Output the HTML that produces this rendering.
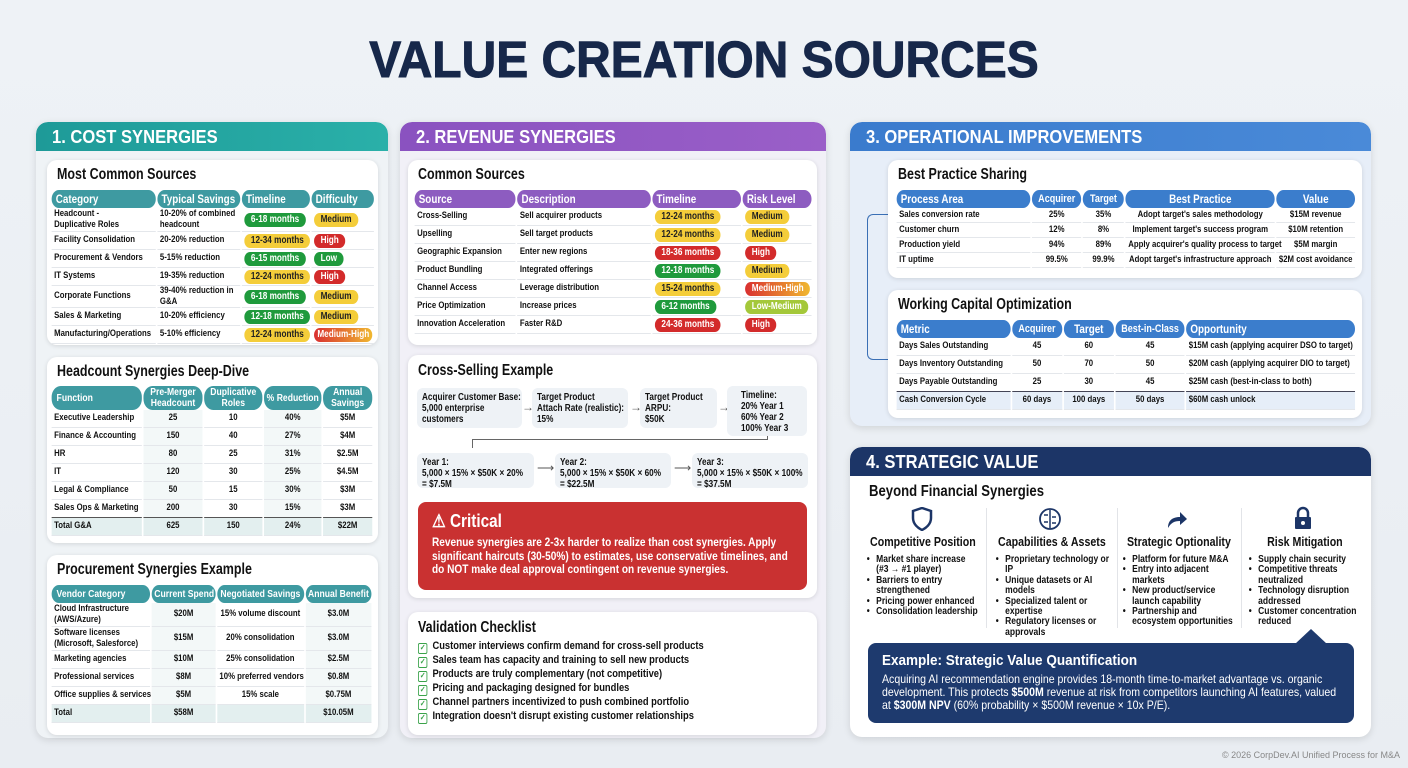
<!DOCTYPE html>
<html><head><meta charset="utf-8">
<style>
*{box-sizing:border-box;margin:0;padding:0}
body{width:1408px;height:768px;background:linear-gradient(180deg,#eef2f6,#e9edf2);font-family:"Liberation Sans",sans-serif;color:#111;position:relative;overflow:hidden}
.a{position:absolute}
h1{position:absolute;left:0;width:1408px;top:30px;text-align:center;font-size:51px;font-weight:700;color:#17284a;transform:scaleX(.94);transform-origin:50% 0;-webkit-text-stroke:1px #17284a}
.panel{position:absolute;border-radius:12px;box-shadow:0 2px 8px rgba(0,0,0,.12);overflow:hidden}
.hd{position:absolute;left:0;top:0;right:0;height:29px;color:#fff;font-weight:700;font-size:18px;padding:5px 0 0 16px;border-radius:12px 12px 0 0}
.hd span{display:inline-block;transform:scaleX(.92);transform-origin:0 0}
.card{position:absolute;background:#fff;border-radius:10px;box-shadow:0 1px 5px rgba(0,0,0,.12)}
.ct{position:absolute;left:10px;font-weight:700;font-size:16px;color:#111;transform:scaleX(.78);transform-origin:0 0;white-space:nowrap}
table{position:absolute;border-collapse:separate;border-spacing:2px 0;table-layout:fixed;transform:scaleX(.82);transform-origin:0 0}
th{color:#fff;font-weight:700;font-size:12px;text-align:left;padding:0 5px;border-radius:11px;height:18px;line-height:11px;white-space:nowrap;overflow:hidden}
td{font-size:9.5px;font-weight:700;border-bottom:1px solid #e4e7eb;padding:0 3px;line-height:10.5px;white-space:nowrap}
.c{text-align:center}
.b{display:inline-block;border-radius:8px;padding:1px 8px;font-size:10px;font-weight:700;line-height:12px}
.g{background:#1f9a3c;color:#fff}.y{background:#f4cd3a;color:#222}.r{background:#d32b2b;color:#fff}.lm{background:#a4c83a;color:#fff}.mh{background:linear-gradient(90deg,#d93030,#f0b830);color:#fff}
.box{position:absolute;background:#eef2f6;border-radius:6px;padding:4px 5px;white-space:nowrap;overflow:hidden}
.box span{display:inline-block;font-size:10px;font-weight:700;line-height:11px;transform:scaleX(.82);transform-origin:0 0}
.ar{position:absolute;font-size:12px;color:#555}
.sc{position:absolute;top:535px;width:148px;transform:scaleX(.85);transform-origin:0 0}
.sc h4{font-size:12.5px;font-weight:700;text-align:center}
.sc ul{margin:6px 0 0 8px;list-style:none}
.sc li{font-size:10px;font-weight:700;line-height:10.4px;padding-left:11px;position:relative}
.sc li:before{content:"•";position:absolute;left:0}
.chk{font-size:11px;font-weight:700;line-height:14px;position:absolute;left:418px;transform:scaleX(.85);transform-origin:0 0;white-space:nowrap}
.chk i{display:inline-block;width:11px;height:11px;border:1.5px solid #3aa34a;border-radius:2px;margin-right:6px;vertical-align:-1px;font-size:8px;color:#3aa34a;line-height:8px;text-align:center;font-style:normal}
.s th{font-size:10.5px;padding:0 3px}
</style></head><body>
<h1>VALUE CREATION SOURCES</h1>

<!-- Column 1 -->
<div class="panel" style="left:36px;top:122px;width:352px;height:616px;background:#eff3f6">
 <div class="hd" style="background:linear-gradient(90deg,#1e9a98,#2ab0a9)"><span>1. COST SYNERGIES</span></div>
</div>
<div class="card" style="left:47px;top:160px;width:331px;height:185px">
 <div class="ct" style="top:6px">Most Common Sources</div>
 <table style="left:3px;top:30px;width:394px">
  <colgroup><col style="width:127px"><col style="width:101px"><col style="width:83px"><col style="width:76px"></colgroup>
  <tr><th style="background:#3e9aa1">Category</th><th style="background:#3e9aa1">Typical Savings</th><th style="background:#3e9aa1">Timeline</th><th style="background:#3e9aa1">Difficulty</th></tr>
  <tr style="height:24px"><td>Headcount -<br>Duplicative Roles</td><td>10-20% of combined<br>headcount</td><td><span class="b g">6-18 months</span></td><td><span class="b y">Medium</span></td></tr>
  <tr style="height:18px"><td>Facility Consolidation</td><td>20-20% reduction</td><td><span class="b y">12-34 months</span></td><td><span class="b r">High</span></td></tr>
  <tr style="height:18px"><td>Procurement &amp; Vendors</td><td>5-15% reduction</td><td><span class="b g">6-15 months</span></td><td><span class="b g">Low</span></td></tr>
  <tr style="height:18px"><td>IT Systems</td><td>19-35% reduction</td><td><span class="b y">12-24 months</span></td><td><span class="b r">High</span></td></tr>
  <tr style="height:18px"><td>Corporate Functions</td><td>39-40% reduction in<br>G&amp;A</td><td><span class="b g">6-18 months</span></td><td><span class="b y">Medium</span></td></tr>
  <tr style="height:18px"><td>Sales &amp; Marketing</td><td>10-20% efficiency</td><td><span class="b g">12-18 months</span></td><td><span class="b y">Medium</span></td></tr>
  <tr style="height:18px"><td>Manufacturing/Operations</td><td>5-10% efficiency</td><td><span class="b y">12-24 months</span></td><td><span class="b mh" style="padding:1px 4px">Medium-High</span></td></tr>
 </table>
</div>
<div class="card" style="left:47px;top:357px;width:331px;height:186px">
 <div class="ct" style="top:6px">Headcount Synergies Deep-Dive</div>
 <table class="s" style="left:3px;top:29px;width:394px">
  <colgroup><col style="width:110px"><col style="width:72px"><col style="width:71px"><col style="width:70px"><col style="width:60px"></colgroup>
  <tr><th style="background:#3e9aa1;height:24px;padding-left:6px">Function</th><th class="c" style="background:#3e9aa1">Pre-Merger<br>Headcount</th><th class="c" style="background:#3e9aa1">Duplicative<br>Roles</th><th class="c" style="background:#3e9aa1">% Reduction</th><th class="c" style="background:#3e9aa1">Annual<br>Savings</th></tr>
  <tr style="height:18px"><td>Executive Leadership</td><td class="c" style="background:#f3f8f8">25</td><td class="c">10</td><td class="c" style="background:#f3f8f8">40%</td><td class="c">$5M</td></tr>
  <tr style="height:18px"><td>Finance &amp; Accounting</td><td class="c" style="background:#f3f8f8">150</td><td class="c">40</td><td class="c" style="background:#f3f8f8">27%</td><td class="c">$4M</td></tr>
  <tr style="height:18px"><td>HR</td><td class="c" style="background:#f3f8f8">80</td><td class="c">25</td><td class="c" style="background:#f3f8f8">31%</td><td class="c">$2.5M</td></tr>
  <tr style="height:18px"><td>IT</td><td class="c" style="background:#f3f8f8">120</td><td class="c">30</td><td class="c" style="background:#f3f8f8">25%</td><td class="c">$4.5M</td></tr>
  <tr style="height:18px"><td>Legal &amp; Compliance</td><td class="c" style="background:#f3f8f8">50</td><td class="c">15</td><td class="c" style="background:#f3f8f8">30%</td><td class="c">$3M</td></tr>
  <tr style="height:18px"><td style="border-bottom:1.5px solid #555">Sales Ops &amp; Marketing</td><td class="c" style="background:#f3f8f8;border-bottom:1.5px solid #555">200</td><td class="c" style="border-bottom:1.5px solid #555">30</td><td class="c" style="background:#f3f8f8;border-bottom:1.5px solid #555">15%</td><td class="c" style="border-bottom:1.5px solid #555">$3M</td></tr>
  <tr style="height:18px;background:#e3efef"><td>Total G&amp;A</td><td class="c">625</td><td class="c">150</td><td class="c">24%</td><td class="c">$22M</td></tr>
 </table>
</div>
<div class="card" style="left:47px;top:555px;width:331px;height:180px">
 <div class="ct" style="top:6px">Procurement Synergies Example</div>
 <table class="s" style="left:3px;top:30px;width:394px">
  <colgroup><col style="width:118px"><col style="width:76px"><col style="width:104px"><col style="width:79px"></colgroup>
  <tr><th style="background:#3e9aa1;padding-left:6px">Vendor Category</th><th class="c" style="background:#3e9aa1">Current Spend</th><th class="c" style="background:#3e9aa1">Negotiated Savings</th><th class="c" style="background:#3e9aa1">Annual Benefit</th></tr>
  <tr style="height:24px"><td>Cloud Infrastructure<br>(AWS/Azure)</td><td class="c" style="background:#f3f8f8">$20M</td><td class="c">15% volume discount</td><td class="c" style="background:#f3f8f8">$3.0M</td></tr>
  <tr style="height:24px"><td>Software licenses<br>(Microsoft, Salesforce)</td><td class="c" style="background:#f3f8f8">$15M</td><td class="c">20% consolidation</td><td class="c" style="background:#f3f8f8">$3.0M</td></tr>
  <tr style="height:18px"><td>Marketing agencies</td><td class="c" style="background:#f3f8f8">$10M</td><td class="c">25% consolidation</td><td class="c" style="background:#f3f8f8">$2.5M</td></tr>
  <tr style="height:18px"><td>Professional services</td><td class="c" style="background:#f3f8f8">$8M</td><td class="c">10% preferred vendors</td><td class="c" style="background:#f3f8f8">$0.8M</td></tr>
  <tr style="height:18px"><td>Office supplies &amp; services</td><td class="c" style="background:#f3f8f8">$5M</td><td class="c">15% scale</td><td class="c" style="background:#f3f8f8">$0.75M</td></tr>
  <tr style="height:18px;background:#e3efef"><td>Total</td><td class="c">$58M</td><td></td><td class="c">$10.05M</td></tr>
 </table>
</div>

<!-- Column 2 -->
<div class="panel" style="left:400px;top:122px;width:426px;height:616px;background:#f1f0f7">
 <div class="hd" style="background:linear-gradient(90deg,#8a52c0,#9a5fc8)"><span>2. REVENUE SYNERGIES</span></div>
</div>
<div class="card" style="left:408px;top:160px;width:409px;height:185px">
 <div class="ct" style="top:6px">Common Sources</div>
 <table style="left:5px;top:30px;width:488px">
  <colgroup><col style="width:122px"><col style="width:161px"><col style="width:107px"><col style="width:83px"></colgroup>
  <tr><th style="background:#8d5cc0">Source</th><th style="background:#8d5cc0">Description</th><th style="background:#8d5cc0">Timeline</th><th style="background:#8d5cc0">Risk Level</th></tr>
  <tr style="height:18px"><td>Cross-Selling</td><td>Sell acquirer products</td><td><span class="b y">12-24 months</span></td><td><span class="b y">Medium</span></td></tr>
  <tr style="height:18px"><td>Upselling</td><td>Sell target products</td><td><span class="b y">12-24 months</span></td><td><span class="b y">Medium</span></td></tr>
  <tr style="height:18px"><td>Geographic Expansion</td><td>Enter new regions</td><td><span class="b r">18-36 months</span></td><td><span class="b r">High</span></td></tr>
  <tr style="height:18px"><td>Product Bundling</td><td>Integrated offerings</td><td><span class="b g">12-18 months</span></td><td><span class="b y">Medium</span></td></tr>
  <tr style="height:18px"><td>Channel Access</td><td>Leverage distribution</td><td><span class="b y">15-24 months</span></td><td><span class="b mh">Medium-High</span></td></tr>
  <tr style="height:18px"><td>Price Optimization</td><td>Increase prices</td><td><span class="b g">6-12 months</span></td><td><span class="b lm">Low-Medium</span></td></tr>
  <tr style="height:18px"><td>Innovation Acceleration</td><td>Faster R&amp;D</td><td><span class="b r">24-36 months</span></td><td><span class="b r">High</span></td></tr>
 </table>
</div>
<div class="card" style="left:408px;top:355px;width:409px;height:243px">
 <div class="ct" style="top:7px">Cross-Selling Example</div>
</div>
<div class="box" style="left:417px;top:388px;width:105px;height:40px"><span>Acquirer Customer Base:<br>5,000 enterprise<br>customers</span></div>
<div class="ar" style="left:522px;top:400px">→</div>
<div class="box" style="left:532px;top:388px;width:96px;height:40px"><span>Target Product<br>Attach Rate (realistic):<br>15%</span></div>
<div class="ar" style="left:630px;top:400px">→</div>
<div class="box" style="left:640px;top:388px;width:77px;height:40px"><span>Target Product<br>ARPU:<br>$50K</span></div>
<div class="ar" style="left:718px;top:400px">→</div>
<div class="box" style="left:727px;top:386px;width:80px;height:50px;padding-left:14px"><span>Timeline:<br>20% Year 1<br>60% Year 2<br>100% Year 3</span></div>
<div class="a" style="left:472px;top:439px;width:296px;height:1px;background:#666"></div>
<div class="a" style="left:767px;top:436px;width:1px;height:4px;background:#666"></div>
<div class="a" style="left:472px;top:439px;width:1px;height:9px;background:#666"></div>
<div class="box" style="left:417px;top:453px;width:117px;height:35px"><span>Year 1:<br>5,000 × 15% × $50K × 20%<br>= $7.5M</span></div>
<div class="ar" style="left:537px;top:461px">⟶</div>
<div class="box" style="left:555px;top:453px;width:116px;height:35px"><span>Year 2:<br>5,000 × 15% × $50K × 60%<br>= $22.5M</span></div>
<div class="ar" style="left:674px;top:461px">⟶</div>
<div class="box" style="left:692px;top:453px;width:116px;height:35px"><span>Year 3:<br>5,000 × 15% × $50K × 100%<br>= $37.5M</span></div>
<div class="a" style="left:418px;top:502px;width:389px;height:88px;background:#c93131;border-radius:8px;color:#fff;padding:9px 14px">
 <div style="font-size:18px;font-weight:700;transform:scaleX(.85);transform-origin:0 0">⚠ Critical</div>
 <div style="font-size:12px;font-weight:700;line-height:13.5px;margin-top:4px;width:430px;transform:scaleX(.84);transform-origin:0 0">Revenue synergies are 2-3x harder to realize than cost synergies. Apply significant haircuts (30-50%) to estimates, use conservative timelines, and do NOT make deal approval contingent on revenue synergies.</div>
</div>
<div class="card" style="left:408px;top:612px;width:409px;height:123px">
 <div class="ct" style="top:7px">Validation Checklist</div>
</div>
<div class="chk" style="top:639px"><i>✓</i>Customer interviews confirm demand for cross-sell products</div>
<div class="chk" style="top:653px"><i>✓</i>Sales team has capacity and training to sell new products</div>
<div class="chk" style="top:667px"><i>✓</i>Products are truly complementary (not competitive)</div>
<div class="chk" style="top:681px"><i>✓</i>Pricing and packaging designed for bundles</div>
<div class="chk" style="top:695px"><i>✓</i>Channel partners incentivized to push combined portfolio</div>
<div class="chk" style="top:709px"><i>✓</i>Integration doesn't disrupt existing customer relationships</div>

<!-- Column 3 -->
<div class="panel" style="left:850px;top:122px;width:521px;height:304px;background:#e7eef8">
 <div class="hd" style="background:linear-gradient(90deg,#3a7bcd,#4a8ad8)"><span>3. OPERATIONAL IMPROVEMENTS</span></div>
</div>
<div class="a" style="left:867px;top:214px;width:22px;height:146px;border:1.5px solid #3a6fb5;border-right:none;border-radius:6px 0 0 6px"></div>
<div class="card" style="left:888px;top:160px;width:474px;height:118px">
 <div class="ct" style="top:6px">Best Practice Sharing</div>
 <table style="left:7px;top:30px;width:563px">
  <colgroup><col style="width:162px"><col style="width:59px"><col style="width:50px"><col style="width:180px"><col style="width:95px"></colgroup>
  <tr><th style="background:#3b7dcc">Process Area</th><th class="c" style="background:#3b7dcc;font-size:11px">Acquirer</th><th class="c" style="background:#3b7dcc;font-size:11px">Target</th><th class="c" style="background:#3b7dcc">Best Practice</th><th class="c" style="background:#3b7dcc">Value</th></tr>
  <tr style="height:15px"><td>Sales conversion rate</td><td class="c">25%</td><td class="c">35%</td><td class="c">Adopt target's sales methodology</td><td class="c">$15M revenue</td></tr>
  <tr style="height:15px"><td>Customer churn</td><td class="c">12%</td><td class="c">8%</td><td class="c">Implement target's success program</td><td class="c">$10M retention</td></tr>
  <tr style="height:15px"><td>Production yield</td><td class="c">94%</td><td class="c">89%</td><td class="c">Apply acquirer's quality process to target</td><td class="c">$5M margin</td></tr>
  <tr style="height:15px"><td>IT uptime</td><td class="c">99.5%</td><td class="c">99.9%</td><td class="c">Adopt target's infrastructure approach</td><td class="c">$2M cost avoidance</td></tr>
 </table>
</div>
<div class="card" style="left:888px;top:290px;width:474px;height:128px">
 <div class="ct" style="top:6px">Working Capital Optimization</div>
 <table style="left:7px;top:30px;width:563px">
  <colgroup><col style="width:138px"><col style="width:61px"><col style="width:61px"><col style="width:84px"><col style="width:205px"></colgroup>
  <tr><th style="background:#3b7dcc">Metric</th><th class="c" style="background:#3b7dcc;font-size:11px">Acquirer</th><th class="c" style="background:#3b7dcc">Target</th><th class="c" style="background:#3b7dcc;font-size:11px">Best-in-Class</th><th style="background:#3b7dcc">Opportunity</th></tr>
  <tr style="height:18px"><td>Days Sales Outstanding</td><td class="c">45</td><td class="c">60</td><td class="c">45</td><td>$15M cash (applying acquirer DSO to target)</td></tr>
  <tr style="height:18px"><td>Days Inventory Outstanding</td><td class="c">50</td><td class="c">70</td><td class="c">50</td><td>$20M cash (applying acquirer DIO to target)</td></tr>
  <tr style="height:18px"><td style="border-bottom:1.5px solid #445">Days Payable Outstanding</td><td class="c" style="border-bottom:1.5px solid #445">25</td><td class="c" style="border-bottom:1.5px solid #445">30</td><td class="c" style="border-bottom:1.5px solid #445">45</td><td style="border-bottom:1.5px solid #445">$25M cash (best-in-class to both)</td></tr>
  <tr style="height:18px;background:#e6eef8"><td>Cash Conversion Cycle</td><td class="c">60 days</td><td class="c">100 days</td><td class="c">50 days</td><td>$60M cash unlock</td></tr>
 </table>
</div>

<!-- Column 4 -->
<div class="panel" style="left:850px;top:447px;width:521px;height:290px;background:#fff">
 <div class="hd" style="background:#1c3567"><span>4. STRATEGIC VALUE</span></div>
</div>
<div class="a" style="left:869px;top:483px;font-size:16px;font-weight:700;transform:scaleX(.82);transform-origin:0 0;white-space:nowrap">Beyond Financial Synergies</div>
<div class="a" style="left:986px;top:508px;width:1px;height:120px;background:#e2e4e8"></div>
<div class="a" style="left:1117px;top:508px;width:1px;height:120px;background:#e2e4e8"></div>
<div class="a" style="left:1241px;top:508px;width:1px;height:120px;background:#e2e4e8"></div>
<svg class="a" style="left:911px;top:507px" width="22" height="24" viewBox="0 0 22 24"><path d="M11 1 L20 4 V11 C20 17 15 21 11 23 C7 21 2 17 2 11 V4Z" fill="none" stroke="#1c3567" stroke-width="2.5"/></svg>
<svg class="a" style="left:1038px;top:507px" width="24" height="24" viewBox="0 0 24 24"><circle cx="12" cy="12" r="10" fill="none" stroke="#1c3567" stroke-width="1.8"/><path d="M12 3V21M6 8H10M14 10H18M6 15H10M14 16H18" stroke="#1c3567" stroke-width="1.5"/></svg>
<svg class="a" style="left:1165px;top:508px" width="24" height="22" viewBox="0 0 24 22"><path d="M3 20 C3 12 8 9 15 9 V4 L22 11 L15 17 V13 C9 13 6 15 3 20Z" fill="#1c3567"/></svg>
<svg class="a" style="left:1294px;top:506px" width="18" height="24" viewBox="0 0 18 24"><path d="M4 11 V7 A5 5 0 0 1 14 7 V11" fill="none" stroke="#1c3567" stroke-width="2.5"/><rect x="1" y="11" width="16" height="12" rx="1" fill="#1c3567"/><circle cx="9" cy="17" r="2" fill="#fff"/></svg>
<div class="sc" style="left:860px"><h4>Competitive Position</h4><ul><li>Market share increase<br>(#3 → #1 player)</li><li>Barriers to entry<br>strengthened</li><li>Pricing power enhanced</li><li>Consolidation leadership</li></ul></div>
<div class="sc" style="left:989px"><h4>Capabilities &amp; Assets</h4><ul><li>Proprietary technology or IP</li><li>Unique datasets or AI<br>models</li><li>Specialized talent or<br>expertise</li><li>Regulatory licenses or<br>approvals</li></ul></div>
<div class="sc" style="left:1116px"><h4>Strategic Optionality</h4><ul><li>Platform for future M&amp;A</li><li>Entry into adjacent<br>markets</li><li>New product/service<br>launch capability</li><li>Partnership and<br>ecosystem opportunities</li></ul></div>
<div class="sc" style="left:1242px"><h4>Risk Mitigation</h4><ul><li>Supply chain security</li><li>Competitive threats<br>neutralized</li><li>Technology disruption<br>addressed</li><li>Customer concentration<br>reduced</li></ul></div>
<div class="a" style="left:1295px;top:629px;width:0;height:0;border-left:16px solid transparent;border-right:16px solid transparent;border-bottom:15px solid #1e3a6e"></div>
<div class="a" style="left:868px;top:643px;width:486px;height:80px;background:#1e3a6e;border-radius:8px;color:#fff;padding:9px 14px">
 <div style="font-size:15px;font-weight:700;transform:scaleX(.9);transform-origin:0 0;white-space:nowrap">Example: Strategic Value Quantification</div>
 <div style="font-size:12px;line-height:13px;margin-top:4px;width:518px;transform:scaleX(.88);transform-origin:0 0">Acquiring AI recommendation engine provides 18-month time-to-market advantage vs. organic development. This protects <b>$500M</b> revenue at risk from competitors launching AI features, valued at <b>$300M NPV</b> (60% probability × $500M revenue × 10x P/E).</div>
</div>

<div class="a" style="right:8px;top:750px;font-size:9px;color:#888">© 2026 CorpDev.AI Unified Process for M&amp;A</div>
</body></html>
